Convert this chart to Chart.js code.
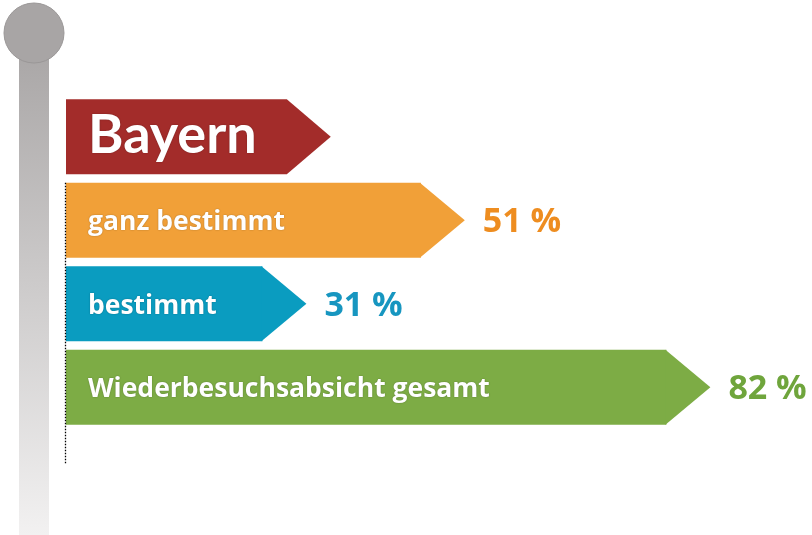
<!DOCTYPE html>
<html lang="de">
<head>
<meta charset="utf-8">
<title>Bayern – Wiederbesuchsabsicht</title>
<script src="https://cdn.jsdelivr.net/npm/chart.js"></script>
<style>
  html, body { margin: 0; padding: 0; background: #fff; }
  #wrap { width: 812px; height: 535px; }
</style>
</head>
<body>
<div id="wrap"><canvas id="chart" width="812" height="535"></canvas></div>
<script>
// data
const header = 'Bayern';
const categories = ['ganz bestimmt', 'bestimmt', 'Wiederbesuchsabsicht gesamt'];
const values = [51, 31, 82];

// colours
const headerColor = '#a32c2a';
const barColors = ['#f1a038', '#0a9cc0', '#7dac45'];
const valueColors = ['#ee8d20', '#1796c0', '#6fa53c'];

// draws the pole, the header sign, the arrow tips and the texts
const signpost = {
  id: 'signpost',
  beforeDraw(chart) {
    const ctx = chart.ctx;
    ctx.save();
    let grad = ctx.createLinearGradient(0, 40, 0, 535);
    grad.addColorStop(0, '#a8a5a5');
    grad.addColorStop(1, '#f2f1f1');
    ctx.fillStyle = grad;
    ctx.fillRect(19, 40, 30, 495);
    ctx.beginPath();
    ctx.arc(34, 33, 30, 0, Math.PI * 2);
    ctx.fillStyle = '#a8a5a5';
    ctx.fill();
    ctx.strokeStyle = '#9a9797';
    ctx.lineWidth = 1;
    ctx.stroke();
    ctx.restore();
  },
  afterDatasetsDraw(chart) {
    const ctx = chart.ctx;
    const area = chart.chartArea;
    const meta = chart.getDatasetMeta(0);
    const yScale = chart.scales.y;
    const bars = meta.data;
    const h = bars[1].height;
    const tip = h * 0.585;

    ctx.save();

    // dotted base line
    ctx.strokeStyle = '#000';
    ctx.lineWidth = 1.3;
    ctx.setLineDash([1.5, 1.5]);
    ctx.beginPath();
    ctx.moveTo(area.left - 0.5, bars[1].y - h / 2);
    ctx.lineTo(area.left - 0.5, area.bottom + 35);
    ctx.stroke();
    ctx.setLineDash([]);

    // header sign
    const hy = yScale.getPixelForValue(0);
    ctx.font = 'bold 54px Lato';
    const hw = ctx.measureText(header).width;
    const hRight = area.left + 22 + hw + 30;
    ctx.fillStyle = headerColor;
    ctx.beginPath();
    ctx.moveTo(area.left, hy - h / 2);
    ctx.lineTo(hRight, hy - h / 2);
    ctx.lineTo(hRight + tip, hy);
    ctx.lineTo(hRight, hy + h / 2);
    ctx.lineTo(area.left, hy + h / 2);
    ctx.closePath();
    ctx.fill();
    ctx.fillStyle = '#fff';
    ctx.shadowColor = 'rgba(0,0,0,0.35)';
    ctx.shadowBlur = 1.5;
    ctx.textBaseline = 'alphabetic';
    ctx.fillText(header, area.left + 22, hy + 16.5);
    ctx.shadowBlur = 0;
    ctx.shadowColor = 'transparent';

    // arrow tips, labels, values
    bars.forEach((el, i) => {
      if (i === 0) return;
      const k = i - 1;
      ctx.fillStyle = barColors[k];
      ctx.beginPath();
      ctx.moveTo(el.x - 1, el.y - el.height / 2);
      ctx.lineTo(el.x + tip, el.y);
      ctx.lineTo(el.x - 1, el.y + el.height / 2);
      ctx.closePath();
      ctx.fill();

      ctx.font = 'bold 26.5px "Open Sans"';
      ctx.fillStyle = '#fff';
      ctx.shadowColor = 'rgba(0,0,0,0.35)';
      ctx.shadowBlur = 1.5;
      ctx.fillText(categories[k], area.left + 22, el.y + 10);
      ctx.shadowBlur = 0;
      ctx.shadowColor = 'transparent';

      ctx.font = 'bold 34px "Open Sans"';
      ctx.fillStyle = valueColors[k];
      ctx.fillText(values[k] + ' %', el.x + tip + 18, el.y + 12);
    });
    ctx.restore();
  }
};

new Chart(document.getElementById('chart'), {
  type: 'bar',
  data: {
    labels: [header].concat(categories),
    datasets: [{
      data: [null].concat(values),
      backgroundColor: [headerColor].concat(barColors),
      borderWidth: 0,
      barPercentage: 0.9,
      categoryPercentage: 1
    }]
  },
  options: {
    indexAxis: 'y',
    responsive: false,
    animation: false,
    layout: { padding: { left: 66, right: 3, top: 95, bottom: 106 } },
    scales: {
      x: { display: false, min: 6.2, max: 100 },
      y: { display: false }
    },
    plugins: {
      legend: { display: false },
      tooltip: { enabled: false }
    }
  },
  plugins: [signpost]
});
</script>
</body>
</html>
